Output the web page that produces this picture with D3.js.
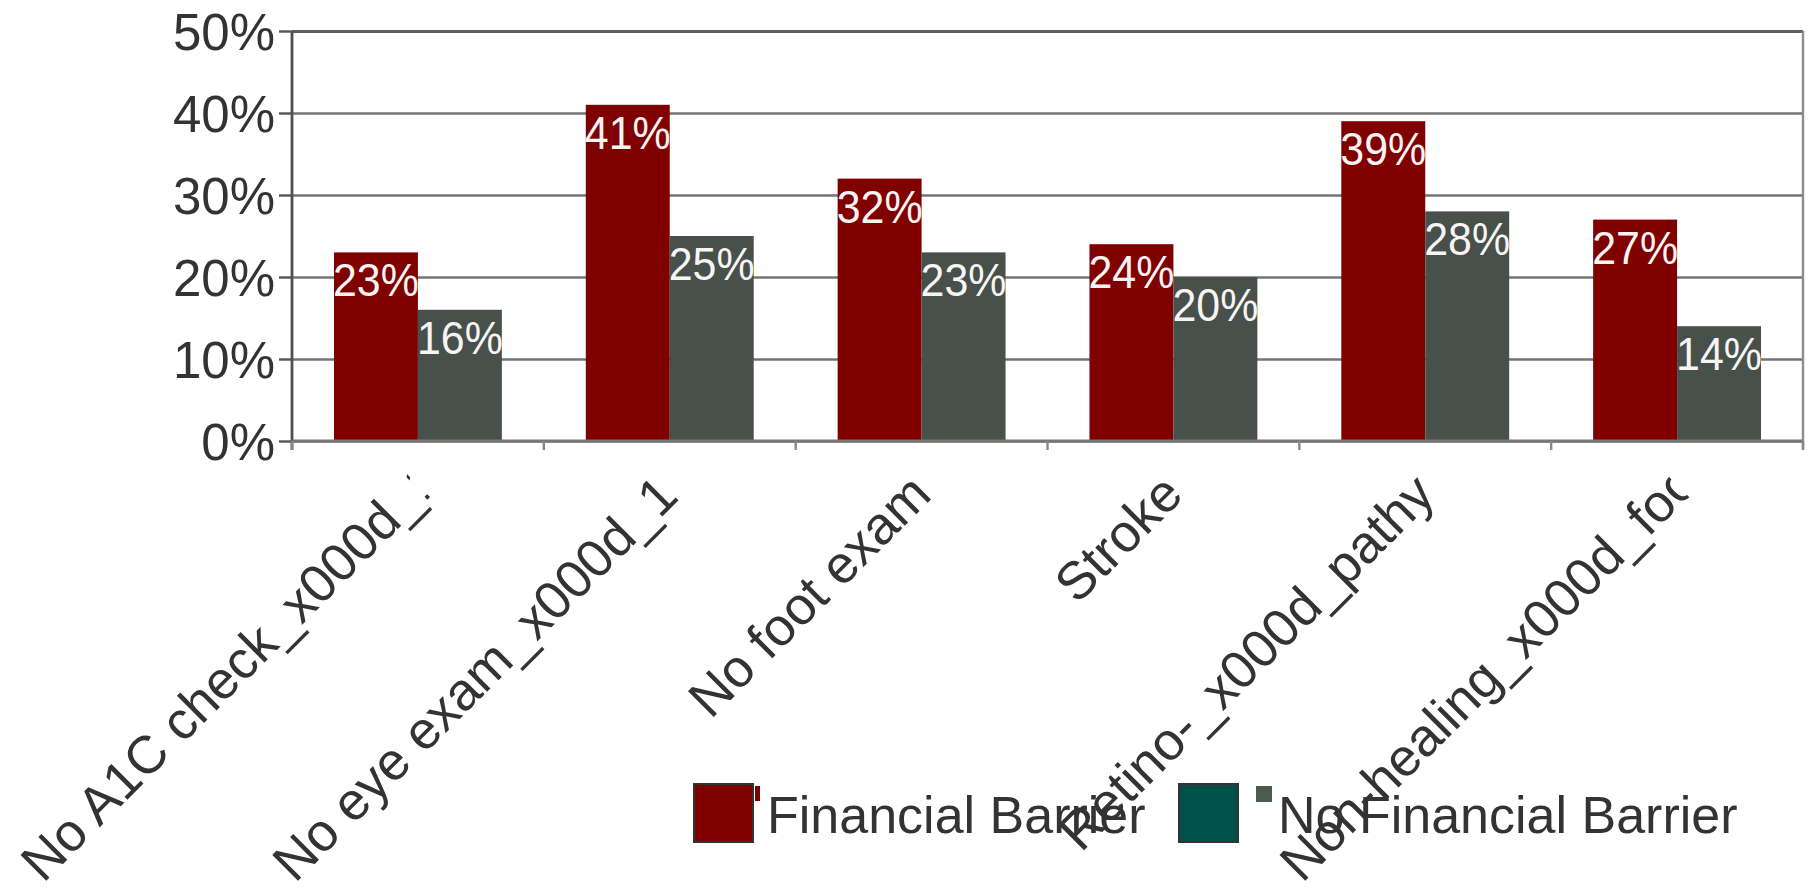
<!DOCTYPE html>
<html>
<head>
<meta charset="utf-8">
<script src="https://cdn.jsdelivr.net/npm/d3@7/dist/d3.min.js"></script>
<style>
  html, body { margin: 0; padding: 0; background: #ffffff; }
  svg { display: block; }
  text { font-family: "Liberation Sans", Arial, sans-serif; }
</style>
</head>
<body>
<svg id="chart" width="1813" height="896"></svg>
<script>
// Diabetes care gaps by financial barrier status
const categories = [
  "No A1C check_x000d_12 months",
  "No eye exam_x000d_12 months",
  "No foot exam",
  "Stroke",
  "Retino-_x000d_pathy",
  "Non-healing_x000d_foot ulcer"
];
const seriesNames = ["Financial Barrier", "No Financial Barrier"];
const financialBarrier   = [0.23, 0.41, 0.32, 0.24, 0.39, 0.27];
const noFinancialBarrier = [0.16, 0.25, 0.23, 0.20, 0.28, 0.14];
const yTicks = [0, 0.1, 0.2, 0.3, 0.4, 0.5];

const barColors = ["#800000", "#47504a"];
const legendColors = ["#800000", "#00504a"];
const legendKeyColors = ["#800000", "#4a5a4c"];

const svg = d3.select("#chart");
const plot = { left: 292, right: 1803, top: 31, bottom: 441 };

const x0 = d3.scaleBand().domain(categories).range([plot.left, plot.right]).padding(0);
const x1 = d3.scaleBand().domain(seriesNames).range([0, x0.bandwidth()])
  .paddingInner(0).paddingOuter(0.5);
const y = d3.scaleLinear().domain([0, 0.5]).range([plot.bottom, plot.top]);
const pct = d3.format(".0%");

// horizontal gridlines
svg.append("g")
  .attr("transform", `translate(${plot.left},0)`)
  .call(d3.axisLeft(y).tickValues(yTicks).tickSize(-(plot.right - plot.left)).tickFormat(""))
  .call(g => g.select(".domain").remove())
  .call(g => g.selectAll("line")
    .attr("stroke", d => d === 0.5 ? "#5e5e5e" : "#747474")
    .attr("stroke-width", d => d === 0.5 ? 2.8 : 2.4));

// right frame edge
svg.append("line")
  .attr("x1", plot.right).attr("x2", plot.right)
  .attr("y1", y(0.5)).attr("y2", y(0) + 8)
  .attr("stroke", "#8c8c8c").attr("stroke-width", 2.4);

// y axis with outward ticks
const yAxis = svg.append("g")
  .attr("transform", `translate(${plot.left},0)`)
  .call(d3.axisLeft(y).tickValues(yTicks).tickSize(13).tickPadding(4).tickFormat(pct));
yAxis.select(".domain").attr("stroke", "#505050").attr("stroke-width", 2.8)
  .attr("d", `M0,${y(0.5)}V${y(0) + 9}`);
yAxis.selectAll(".tick line").attr("stroke", "#555").attr("stroke-width", 2.4);
yAxis.selectAll(".tick text")
  .attr("fill", "#333").attr("font-size", 51).attr("dy", "0.36em")
  .style("font-family", "'Liberation Sans', Arial, sans-serif");

// bars
const rows = categories.map((c, i) => ({ cat: c, vals: [financialBarrier[i], noFinancialBarrier[i]] }));
const groups = svg.append("g").selectAll("g").data(rows).join("g")
  .attr("transform", d => `translate(${x0(d.cat)},0)`);

const cells = groups.selectAll("g").data(d => d.vals.map((v, j) => ({ s: seriesNames[j], v, j })))
  .join("g");

cells.append("rect")
  .attr("x", d => x1(d.s))
  .attr("y", d => y(d.v))
  .attr("width", x1.bandwidth())
  .attr("height", d => y(0) - y(d.v))
  .attr("fill", d => barColors[d.j]);

// value labels inside the top of each bar
cells.append("text")
  .attr("x", d => x1(d.s) + x1.bandwidth() / 2)
  .attr("y", d => y(d.v) + 44)
  .attr("text-anchor", "middle")
  .attr("font-size", 47)
  .attr("fill", "#f8f4f4")
  .attr("textLength", x1.bandwidth() + 2)
  .attr("lengthAdjust", "spacingAndGlyphs")
  .text(d => pct(d.v));

// x axis baseline
svg.append("line")
  .attr("x1", plot.left).attr("x2", plot.right)
  .attr("y1", y(0)).attr("y2", y(0))
  .attr("stroke", "#777").attr("stroke-width", 2.8);

// category boundary ticks
const boundaries = categories.map(c => x0(c)).concat([plot.right]);
svg.append("g").selectAll("line").data(boundaries).join("line")
  .attr("x1", d => d).attr("x2", d => d)
  .attr("y1", y(0)).attr("y2", y(0) + 9)
  .attr("stroke", "#888").attr("stroke-width", 2.4);

// rotated category labels, trimmed to a fixed length
const labelFont = 53;
const maxLabelLen = labelFont * 10.32;
const defs = svg.append("defs");
const labelG = svg.append("g");
categories.forEach((c, i) => {
  const ax = x0(c) + x0.bandwidth() / 2 + 12;
  const ay = y(0) + 56;
  const g = labelG.append("g").attr("transform", `translate(${ax},${ay}) rotate(-45)`);
  const t = g.append("text")
    .attr("font-size", labelFont)
    .attr("fill", "#333")
    .text(c);
  const len = t.node().getComputedTextLength();
  if (len > maxLabelLen) {
    const id = "clip-label-" + i;
    defs.append("clipPath").attr("id", id)
      .append("rect")
      .attr("x", -maxLabelLen).attr("y", -labelFont)
      .attr("width", maxLabelLen).attr("height", labelFont * 1.6);
    t.attr("x", -maxLabelLen).attr("text-anchor", "start");
    g.attr("clip-path", `url(#${id})`);
  } else {
    t.attr("x", 0).attr("text-anchor", "end");
  }
});

// legend
const legendItems = [
  { name: seriesNames[0], x: 694, key: 0 },
  { name: seriesNames[1], x: 1179, key: 1 }
];
const legend = svg.append("g").selectAll("g").data(legendItems).join("g")
  .attr("transform", d => `translate(${d.x},784)`);
legend.append("rect")
  .attr("width", 59).attr("height", 58)
  .attr("fill", d => legendColors[d.key])
  .attr("stroke", "#333").attr("stroke-width", 2);
legend.append("rect")
  .attr("x", d => d.key === 0 ? 61 : 77)
  .attr("y", 2)
  .attr("width", d => d.key === 0 ? 5 : 16)
  .attr("height", d => d.key === 0 ? 15 : 16)
  .attr("fill", d => legendKeyColors[d.key]);
legend.append("text")
  .attr("x", d => d.key === 0 ? 73 : 99)
  .attr("y", 49)
  .attr("font-size", 52)
  .attr("fill", "#333")
  .text(d => d.name);
</script>
</body>
</html>
